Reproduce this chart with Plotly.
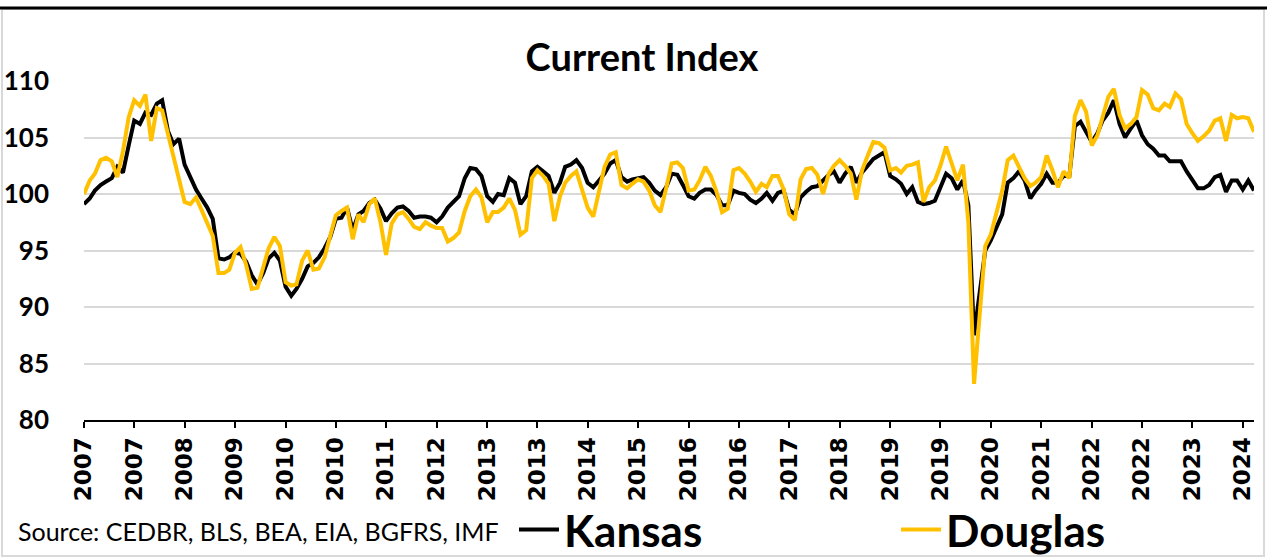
import pandas as pd
import plotly.graph_objects as go

# ---- data (monthly, starting Jan 2007) ----
kansas = [
    99.1, 99.6, 100.3, 100.8, 101.1, 101.4, 102.4, 101.9, 104.3, 106.5,
    106.2, 107.2, 107.0, 108.0, 108.3, 105.6, 104.4, 104.9, 102.6, 101.4,
    100.4, 99.6, 98.8, 97.8, 94.3, 94.2, 94.4, 94.8, 94.7, 94.0,
    92.8, 92.0, 93.0, 94.3, 94.8, 94.1, 91.8, 91.0, 91.6, 92.5,
    93.6, 93.9, 94.4, 95.2, 96.2, 97.8, 97.9, 98.8, 96.8, 98.2,
    98.5, 99.2, 99.5, 98.7, 97.6, 98.3, 98.8, 98.9, 98.5, 97.9,
    98.0, 98.0, 97.9, 97.5, 98.0, 98.8, 99.3, 99.8, 101.4, 102.3,
    102.2, 101.6, 99.8, 99.3, 100.0, 99.9, 101.4, 101.0, 99.1, 99.8,
    102.0, 102.4, 102.0, 101.6, 100.1, 101.0, 102.4, 102.6, 103.0, 102.3,
    101.0, 100.6, 101.2, 101.8, 102.7, 103.0, 101.5, 101.1, 101.3, 101.4,
    101.5, 101.0, 100.3, 99.9, 100.6, 101.8, 101.7, 100.8, 99.8, 99.6,
    100.1, 100.4, 100.4, 99.9, 99.0, 99.0, 100.3, 100.1, 100.0, 99.5,
    99.2, 99.6, 100.1, 99.4, 100.1, 100.3, 98.6, 98.2, 99.7, 100.2,
    100.6, 100.7, 101.2, 101.7, 102.0, 101.0, 101.8, 102.4, 101.0, 101.9,
    102.5, 103.1, 103.4, 103.7, 101.6, 101.3, 100.9, 100.0, 100.6, 99.3,
    99.1, 99.2, 99.4, 100.7, 101.8, 101.4, 100.4, 101.2, 99.0, 87.5,
    91.0, 95.0, 95.9, 97.0, 98.2, 101.0, 101.4, 102.0, 101.2, 99.6,
    100.3, 100.9, 101.8, 101.0, 101.0, 101.6, 101.6, 106.0, 106.4, 105.5,
    104.6, 105.4, 106.5, 107.2, 108.3, 106.2, 105.0, 105.8, 106.5, 105.2,
    104.4, 104.0, 103.4, 103.4, 102.9, 102.9, 102.9, 102.0, 101.3, 100.5,
    100.5, 100.8, 101.5, 101.7, 100.2, 101.2, 101.2, 100.4, 101.2, 100.3,
]

douglas = [
    100.0, 101.2, 101.8, 103.0, 103.2, 102.9, 101.5, 103.8, 106.8, 108.3,
    107.8, 108.8, 104.7, 107.6, 107.4, 105.3, 103.6, 101.5, 99.3, 99.1,
    99.7, 98.6, 97.5, 96.3, 93.0, 93.0, 93.3, 94.8, 95.3, 93.7,
    91.6, 91.7, 93.5, 95.2, 96.2, 95.4, 92.2, 91.9, 92.0, 94.1,
    95.0, 93.3, 93.4, 94.4, 96.3, 98.1, 98.5, 98.8, 96.0, 98.2,
    97.5, 99.1, 99.6, 97.5, 94.6, 97.4, 98.2, 98.4, 97.8, 97.1,
    96.9, 97.5, 97.2, 97.0, 97.0, 95.8, 96.1, 96.6, 98.5, 99.8,
    100.4, 99.7, 97.5, 98.4, 98.4, 98.8, 99.6, 98.6, 96.4, 96.8,
    101.4, 102.1, 101.6, 100.9, 97.6, 99.8, 101.0, 101.6, 102.0, 100.4,
    98.8, 98.0, 100.3, 102.4, 103.5, 103.7, 100.8, 100.5, 100.9, 101.3,
    101.1, 100.3, 99.0, 98.4, 100.5, 102.7, 102.8, 102.3, 100.3, 100.4,
    101.2, 102.4, 101.6, 100.2, 98.4, 98.7, 102.1, 102.3, 101.8, 101.1,
    100.2, 100.9, 100.6, 101.6, 101.6, 100.4, 98.2, 97.7, 101.3, 102.2,
    102.3, 101.7, 100.0, 101.8, 102.5, 103.0, 102.5, 101.8, 99.5, 102.1,
    103.4, 104.6, 104.5, 104.1, 102.1, 102.3, 101.9, 102.5, 102.6, 102.8,
    99.3, 100.6, 101.2, 102.5, 104.2, 102.7, 101.2, 102.6, 97.5, 83.2,
    89.5, 95.4, 96.4, 98.5, 100.3, 103.0, 103.4, 102.4, 101.4, 100.7,
    101.0, 101.5, 103.4, 102.1, 100.6, 102.0, 101.4, 106.9, 108.3, 107.3,
    104.3, 105.2, 106.8, 108.6, 109.3, 107.0, 105.8, 106.2, 106.8, 109.2,
    108.8, 107.6, 107.4, 108.0, 107.7, 108.9, 108.4, 106.2, 105.4, 104.7,
    105.1, 105.6, 106.5, 106.7, 104.7, 107.0, 106.7, 106.8, 106.7, 105.5,
]

tick_labels = [
    "2007", "2007", "2008", "2009", "2010", "2010", "2011", "2012",
    "2013", "2013", "2014", "2015", "2016", "2016", "2017", "2018",
    "2019", "2019", "2020", "2021", "2022", "2022", "2023", "2024",
]

dates = pd.date_range(start="2007-01-01", periods=len(kansas), freq="MS")
tick_vals = list(dates[::9])

W, H = 1267, 560
L, R, T, B = 84, 13, 81, 140
PW, PH = W - L - R, H - T - B


def px(x):
    return (x - L) / PW


def py(y):
    return (H - B - y) / PH


FONT = "Lato"

fig = go.Figure()
fig.add_trace(go.Scatter(
    x=dates, y=kansas, name="Kansas", mode="lines",
    line=dict(color="#000000", width=4),
))
fig.add_trace(go.Scatter(
    x=dates, y=douglas, name="Douglas", mode="lines",
    line=dict(color="#FFC000", width=4),
))

fig.update_layout(
    width=W, height=H,
    margin=dict(l=L, r=R, t=T, b=B, pad=0, autoexpand=False),
    paper_bgcolor="white", plot_bgcolor="white",
    font=dict(family=FONT, color="black"),
    title=dict(
        text="<b>Current Index</b>",
        x=642 / W, xref="container", xanchor="center",
        y=1 - 58 / H, yref="container", yanchor="middle",
        font=dict(family=FONT, size=38, color="black"),
    ),
    xaxis=dict(
        type="date", automargin=False,
        range=[dates[0], dates[-1]],
        tickmode="array", tickvals=tick_vals, ticktext=tick_labels,
        tickangle=-90,
        ticks="outside", ticklen=6, tickwidth=2, tickcolor="black",
        showline=True, linecolor="black", linewidth=2,
        showgrid=False, zeroline=False,
        tickfont=dict(family="DejaVu Sans", size=23, color="black", weight="bold"),
    ),
    yaxis=dict(
        range=[80, 110], dtick=5, tick0=80, automargin=False,
        showgrid=True, gridcolor="#d9d9d9", gridwidth=2,
        zeroline=False, showline=False,
        ticks="", ticklabelstandoff=34,
        tickfont=dict(family=FONT, size=26, color="black", weight="bold"),
    ),
    legend=dict(
        orientation="h",
        x=px(514), xanchor="left",
        y=py(530), yanchor="middle",
        entrywidth=327, entrywidthmode="pixels",
        font=dict(family=FONT, size=44, color="black", weight="bold"),
        bgcolor="rgba(0,0,0,0)",
        itemwidth=40,
    ),
    showlegend=True,
    annotations=[dict(
        text="Source: CEDBR, BLS, BEA, EIA, BGFRS, IMF",
        xref="paper", yref="paper",
        x=px(16), y=py(531), xanchor="left", yanchor="middle",
        showarrow=False,
        font=dict(family=FONT, size=25, color="black"),
    )],
    shapes=[
        dict(type="rect", xref="paper", yref="paper",
             x0=px(2), x1=px(1264), y0=py(556), y1=py(9),
             line=dict(color="#d9d9d9", width=2), fillcolor="rgba(0,0,0,0)",
             layer="below"),
        dict(type="line", xref="paper", yref="paper",
             x0=px(0), x1=px(W), y0=py(8), y1=py(8),
             line=dict(color="black", width=3)),
    ],
)

fig.write_html(
    "out.html",
    config={"displayModeBar": False},
    post_script="document.body.style.margin='0';document.body.style.overflow='hidden';",
)
